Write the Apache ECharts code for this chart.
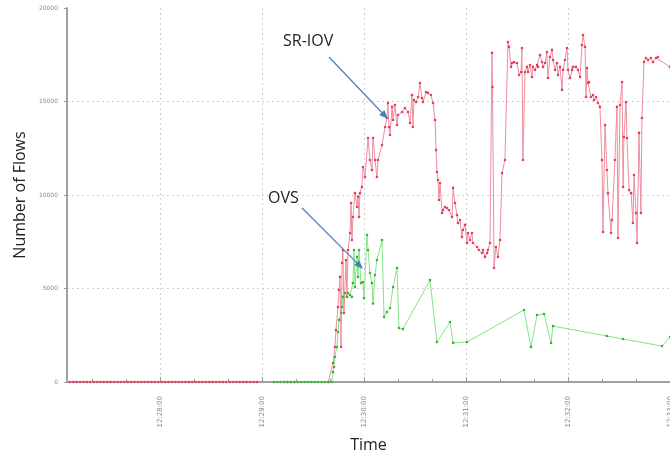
<!DOCTYPE html>
<html>
<head>
<meta charset="utf-8">
<script src="https://cdn.jsdelivr.net/npm/echarts@6/dist/echarts.min.js"></script>
<style>
html,body{margin:0;padding:0;background:#fff;}
#chart{width:670px;height:454px;}
</style>
</head>
<body>
<div id="chart"></div>
<script>
// Times are seconds after 12:27:00
const srTimes = [5,7,9,11,13,15,17,19,21,23,25,27,29,31,33,35,37,39,41,43,45,47,49,51,53,55,57,59,61,63,65,67,69,71,73,75,77,79,81,83,85,87,89,91,93,95,97,99,101,103,105,107,109,111,113,115,117,
  118.5,133,135,137,139,140,159,
  161.8,162.9,163.5,164.7,165.3,165.9,166.5,167.1,167.6,168.2,169.4,170.0,170.6,171.8,172.4,172.9,173.5,174.7,175.9,176.5,177.1,177.6,178.8,179.4,180.6,182.4,183.5,184.7,185.3,186.5,187.6,188.2,190.6,192.4,193.5,194.1,194.7,195.3,196.5,197.1,198.2,199.4,200.0,202.4,204.1,205.9,207.1,208.2,208.8,209.4,210.6,211.8,212.9,214.1,214.7,216.5,217.6,219.4,220.6,221.8,222.4,222.9,223.5,224.1,224.7,225.9,226.5,227.6,228.8,230.0,231.8,232.4,233.5,234.7,235.3,236.5,237.6,238.2,239.4,240.6,241.2,242.4,243.5,244.1,246.5,247.6,249.4,250.0,251.2,252.4,252.9,254.1,255.3,255.6,256.5,257.6,258.8,260.0,261.2,262.9,264.7,265.3,266.5,267.1,268.2,270.0,271.2,272.4,272.9,273.5,274.7,275.9,276.5,277.6,278.8,279.4,280.6,281.8,282.4,283.5,284.7,285.3,286.5,287.6,288.2,289.4,290.6,291.2,292.4,293.5,294.1,295.3,296.5,297.1,298.2,299.4,300.0,301.2,302.4,302.9,304.7,305.9,307.1,308.2,308.8,310.0,310.6,311.2,311.8,312.4,313.5,314.7,315.3,316.5,317.6,318.8,320.0,320.6,321.8,322.9,323.5,325.3,325.9,327.6,328.8,329.4,330.6,331.8,332.4,332.9,334.1,334.7,335.9,337.1,338.2,338.8,340.0,340.6,341.8,342.9,343.5,344.7,345.9,347.1,348.8,350.0,351.8,352.9,360.0,365.0];
const srValues = [0,0,0,0,0,0,0,0,0,0,0,0,0,0,0,0,0,0,0,0,0,0,0,0,0,0,0,0,0,0,0,0,0,0,0,0,0,0,0,0,0,0,0,0,0,0,0,0,0,0,0,0,0,0,0,0,0,
  null,0,0,0,0,null,0,
  1020,1870,2780,4010,4920,5620,1870,6360,7060,3690,6520,4550,7060,7970,9570,7590,8820,10100,9360,9900,8820,10100,10430,11500,10960,13050,11870,11340,13050,11870,10960,11870,12670,13640,14120,14920,13640,13210,14710,14010,14810,13740,14280,14440,14650,14440,13850,15350,13640,15080,14970,15240,15990,15190,14970,15510,15460,15350,14920,14010,12400,11230,10800,9730,10640,9040,9200,9360,9300,9200,8820,10380,9570,8930,8500,8660,7750,8130,8400,7430,7970,7590,7970,7430,7220,7060,6900,7060,6690,6900,7060,7430,17600,15770,6100,7220,6690,7590,11180,11870,18180,17920,16850,17060,17110,17060,16420,16580,17860,11870,16580,16850,16580,16950,16310,16850,16690,16950,16850,17490,17110,16850,17060,17650,16260,17380,17760,17220,16690,17060,16420,16850,15620,16690,17220,17860,16690,16260,16690,16850,16850,16690,16310,18020,18560,17920,15240,16790,15990,16040,15240,15350,15080,15240,14920,14710,11870,8020,13740,11340,10100,7970,8660,11870,14710,7700,14810,16040,10430,13100,14970,13050,10270,10100,8500,11070,9040,7430,13320,9040,14120,17110,17330,17220,17330,17110,17330,17380,16850,16500];

const ovsTimes = [127,129,131,133,135,137,139,141,143,145,147,149,151,153,155,157,159,161,
  161.8,162.4,162.9,164.1,164.7,165.3,166.5,167.1,167.6,168.8,170.0,170.6,171.8,172.9,173.5,174.1,174.7,175.9,176.5,177.1,178.2,179.4,180.0,181.8,182.4,183.5,184.7,185.3,186.5,187.6,190.6,191.8,193.5,195.3,197.1,199.4,200.6,202.9,218.8,222.9,230.6,232.4,240.6,274.1,278.2,281.8,285.9,290.0,291.2,322.9,332.4,355.3,360.0,365.0];
const ovsValues = [0,0,0,0,0,0,0,0,0,0,0,0,0,0,0,0,0,0,
  530,800,1340,1870,2670,3320,3690,4010,4550,4760,4550,4760,4650,4550,5290,7060,5080,6690,5620,7060,5290,5350,4490,7860,7060,5830,5290,4200,5720,6520,7590,3480,3740,3960,5080,6100,2890,2830,5450,2140,3210,2090,2140,3850,1870,3580,3640,2090,2990,2460,2300,1920,2410,2800];

const yTicks = [0, 5000, 10000, 15000, 20000];
const minorTickSeconds = [20,40,80,100,140,160,200,220,260,280,320,340];
const tickLabelFormat = '{HH}:{mm}:{ss}';

const base = new Date(2020, 0, 1, 12, 27, 0).getTime();
const toPairs = (ts, vs) => ts.map((t, i) => [base + t * 1000, vs[i]]);

const chart = echarts.init(document.getElementById('chart'), null, {renderer: 'canvas'});

function arrow(x1, y1, x2, y2, color) {
  const ang = Math.atan2(y2 - y1, x2 - x1);
  const L = 9, W = 3.5;
  const bx = x2 - L * Math.cos(ang), by = y2 - L * Math.sin(ang);
  const px = -Math.sin(ang) * W, py = Math.cos(ang) * W;
  return [
    {type: 'line', shape: {x1: x1, y1: y1, x2: bx, y2: by}, style: {stroke: color, lineWidth: 1.2}, z: 100},
    {type: 'polygon', shape: {points: [[x2, y2], [bx + px, by + py], [bx - px, by - py]]}, style: {fill: color}, z: 100}
  ];
}

const xMin = base + 5300, xMax = base + 360000;

const option = {
  backgroundColor: '#ffffff',
  animation: false,
  grid: {left: 67, right: 0, top: 8, bottom: 72, containLabel: false, outerBoundsMode: 'none'},
  xAxis: [{
    type: 'time',
    min: xMin,
    max: xMax,
    minInterval: 60000,
    maxInterval: 60000,
    name: 'Time',
    nameLocation: 'middle',
    nameGap: 55,
    nameTextStyle: {fontFamily: 'Open Sans', fontSize: 16, color: '#222'},
    axisLine: {show: true, lineStyle: {color: '#a0a0a0', width: 2}},
    axisTick: {show: true, inside: true, length: 5, lineStyle: {color: '#999'}},
    axisLabel: {
      rotate: 90, fontSize: 7, color: '#8a8a8a', fontFamily: 'DejaVu Sans',
      formatter: tickLabelFormat, showMinLabel: false, showMaxLabel: true, margin: 14
    },
    splitLine: {show: true, lineStyle: {color: '#d0d0d0', type: [2, 3], width: 1}}
  }, {
    // helper axis carrying the 20-second minor ticks
    type: 'value',
    position: 'bottom',
    min: 5.3,
    max: 360,
    axisLine: {show: false},
    axisTick: {show: true, inside: true, length: 3, lineStyle: {color: '#999'}, customValues: minorTickSeconds},
    axisLabel: {show: false, customValues: minorTickSeconds},
    splitLine: {show: false}
  }],
  yAxis: {
    type: 'value',
    min: yTicks[0],
    max: yTicks[yTicks.length - 1],
    interval: 5000,
    name: 'Number of Flows',
    nameLocation: 'middle',
    nameRotate: 90,
    nameGap: 39,
    nameTextStyle: {fontFamily: 'Open Sans', fontSize: 16, color: '#222'},
    axisLine: {show: true, lineStyle: {color: '#a0a0a0', width: 2}},
    axisTick: {show: true, inside: false, length: 3, lineStyle: {color: '#999'}},
    axisLabel: {fontSize: 6, color: '#8a8a8a', fontFamily: 'DejaVu Sans', margin: 9, formatter: v => String(v)},
    splitLine: {show: true, showMaxLine: false, lineStyle: {color: '#d0d0d0', type: [2, 3], width: 1}}
  },
  series: [
    {
      name: 'SR-IOV', type: 'line', xAxisIndex: 0, data: toPairs(srTimes, srValues),
      connectNulls: false, symbol: 'circle', symbolSize: 2.6, showSymbol: true,
      lineStyle: {color: '#f08c9c', width: 1},
      itemStyle: {color: '#e0405e'}, z: 3
    },
    {
      name: 'OVS', type: 'line', xAxisIndex: 0, data: toPairs(ovsTimes, ovsValues),
      symbol: 'circle', symbolSize: 2.6, showSymbol: true,
      lineStyle: {color: '#86e486', width: 1},
      itemStyle: {color: '#3fb03f'}, z: 4
    }
  ],
  graphic: [
    {type: 'text', left: 283, top: 33, style: {text: 'SR-IOV', font: '16px "Open Sans"', fill: '#222'}, z: 100},
    {type: 'text', left: 268, top: 190, style: {text: 'OVS', font: '16px "Open Sans"', fill: '#222'}, z: 100},
    ...arrow(329, 57, 388, 119, '#4a7ebb'),
    ...arrow(302, 208, 363, 269, '#4a7ebb')
  ]
};
chart.setOption(option);
</script>
</body>
</html>
